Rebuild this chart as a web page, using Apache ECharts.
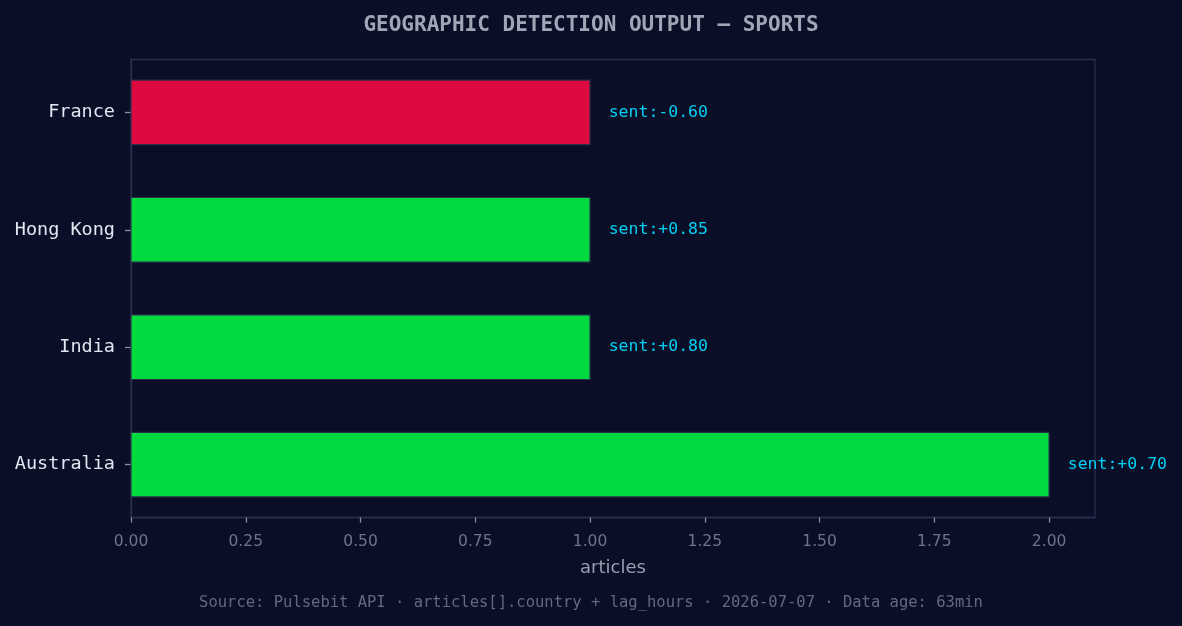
<!DOCTYPE html>
<html>
<head>
<meta charset="utf-8">
<script src="https://cdn.jsdelivr.net/npm/echarts@6/dist/echarts.min.js"></script>
<style>
html,body{margin:0;padding:0;background:#0a0e27;}
#c{width:1182px;height:626px;}
</style>
</head>
<body>
<div id="c"></div>
<script>
// categories listed bottom-to-top
const countries = ['Australia', 'India', 'Hong Kong', 'France'];
const articles = [2, 1, 1, 1];
const sentiment = [0.70, 0.80, 0.85, -0.60];
const xTicks = [0, 0.25, 0.5, 0.75, 1.0, 1.25, 1.5, 1.75, 2.0];
const yTicks = [0, 1, 2, 3];
const titleText = 'GEOGRAPHIC DETECTION OUTPUT \u2014 SPORTS';
const xName = 'articles';
const footer = 'Source: Pulsebit API \u00b7 articles[].country + lag_hours \u00b7 2026-07-07 \u00b7 Data age: 63min';

const data = countries.map((c, i) => [articles[i], i, sentiment[i]]);
const fmtSent = s => 'sent:' + (s >= 0 ? '+' : '-') + Math.abs(s).toFixed(2);

const chart = echarts.init(document.getElementById('c'), null, {renderer: 'canvas'});
chart.setOption({
  backgroundColor: '#0a0e27',
  animation: false,
  title: {
    text: titleText,
    left: 'center',
    top: 10,
    textStyle: {fontFamily: 'DejaVu Sans Mono', fontWeight: 'bold', fontSize: 21, color: '#a0a6b6'}
  },
  graphic: [{
    type: 'text',
    left: 'center',
    top: 595,
    style: {text: footer, fontFamily: 'DejaVu Sans Mono', fontSize: 15.5, fill: '#646a7c'}
  }],
  grid: {
    left: 131, top: 59.5, width: 964, height: 458,
    show: true, borderColor: '#2a2f4c', borderWidth: 1.3, backgroundColor: 'transparent'
  },
  xAxis: {
    type: 'value', min: 0, max: 2.1,
    name: xName, nameLocation: 'middle', nameGap: 42,
    nameTextStyle: {fontFamily: 'DejaVu Sans', fontSize: 18, color: '#9a9fae'},
    axisLine: {show: true, onZero: false, lineStyle: {color: '#2a2f4c', width: 1.3}},
    splitLine: {show: false},
    axisTick: {show: true, customValues: xTicks, length: 5, lineStyle: {color: '#8a90a2', width: 1.3}},
    axisLabel: {show: true, customValues: xTicks, margin: 16, formatter: v => v.toFixed(2),
      fontFamily: 'DejaVu Sans', fontSize: 15.5, color: '#6f7588'}
  },
  yAxis: {
    type: 'value', min: -0.45, max: 3.45,
    axisLine: {show: true, onZero: false, lineStyle: {color: '#2a2f4c', width: 1.3}},
    splitLine: {show: false},
    axisTick: {show: true, customValues: yTicks, length: 6, lineStyle: {color: '#8a90a2', width: 1.3}},
    axisLabel: {customValues: yTicks, margin: 16, formatter: v => countries[Math.round(v)] || '',
      fontFamily: 'DejaVu Sans Mono', fontSize: 18.5, color: '#e2e6f0'}
  },
  series: [{
    type: 'custom',
    data: data,
    encode: {x: 0, y: 1},
    clip: false,
    renderItem: function (params, api) {
      const v = api.value(0), y = api.value(1), s = api.value(2);
      const start = api.coord([0, y]);
      const end = api.coord([v, y]);
      const h = api.size([0, 0.55])[1];
      return {
        type: 'rect',
        shape: {x: start[0], y: start[1] - h / 2, width: end[0] - start[0], height: h},
        style: {fill: s < 0 ? '#dc0a3e' : '#00da3e', stroke: '#2a2f4c', lineWidth: 1.2},
        textConfig: {position: 'right', distance: 18},
        textContent: {
          style: {text: fmtSent(s), fill: '#00d0f5', fontFamily: 'DejaVu Sans Mono', fontSize: 16.5}
        }
      };
    }
  }]
});
</script>
</body>
</html>
